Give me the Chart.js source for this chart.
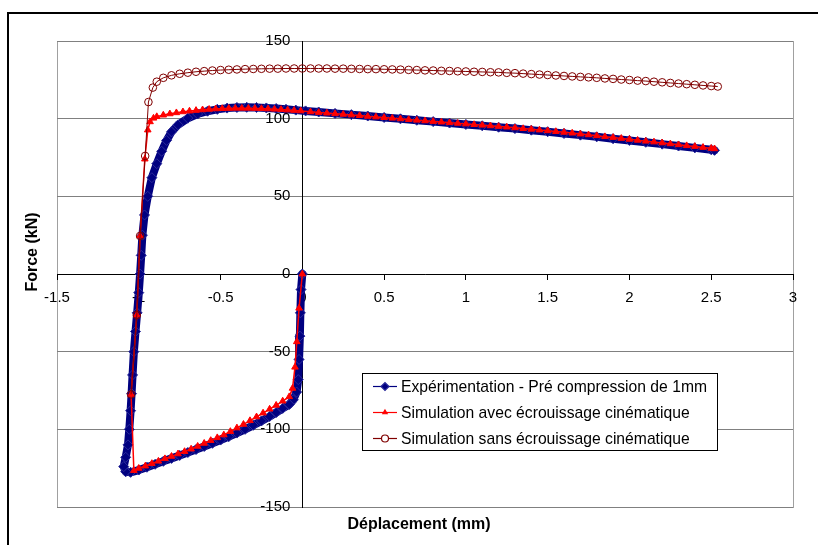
<!DOCTYPE html>
<html>
<head>
<meta charset="utf-8">
<script src="https://cdn.jsdelivr.net/npm/chart.js@4"></script>
<style>
  body { margin: 0; background: #fff; }
  canvas { display: block; }
</style>
</head>
<body>
<canvas id="chart" width="818" height="545"></canvas>
<script>
// series labels
var seriesNames = [
    "Expérimentation - Pré compression de 1mm",
    "Simulation avec écrouissage cinématique",
    "Simulation sans écrouissage cinématique"
];

// axis ticks
var xTicks = [-1.5, -1, -0.5, 0, 0.5, 1, 1.5, 2, 2.5, 3];
var yTicks = [-150, -100, -50, 0, 50, 100, 150];

// experimental curve (mm, kN)
var expX = [0, -0.008, -0.012, -0.015, -0.02, -0.025, -0.035, -0.055, -0.08,
    -0.12, -0.16, -0.2, -0.25, -0.3, -0.35, -0.4, -0.45, -0.5, -0.55, -0.6, -0.65, -0.7,
    -0.75, -0.8, -0.85, -0.9, -0.95, -1, -1.05, -1.08, -1.092, -1.08, -1.066, -1.058,
    -1.05, -1.044, -1.038, -1.03, -1.02, -1.01, -1, -0.992, -0.985, -0.978, -0.965,
    -0.945, -0.92, -0.89, -0.86, -0.83, -0.8, -0.76, -0.7, -0.64, -0.58, -0.52, -0.46,
    -0.4, -0.34, -0.28, -0.22, -0.16, -0.1, -0.04, 0.02, 0.1, 0.2, 0.3, 0.4, 0.5, 0.6,
    0.7, 0.8, 0.9, 1, 1.1, 1.2, 1.3, 1.4, 1.5, 1.6, 1.7, 1.8, 1.9, 2, 2.1, 2.2, 2.3,
    2.4, 2.5, 2.52];
var expY = [0, -10, -25, -40, -55, -68, -76, -81, -84,
    -86.5, -89.2, -91.7, -94.6, -97.4, -100, -102.4, -104.7, -106.9, -109, -111, -113, -114.9,
    -116.8, -118.7, -120.6, -122.5, -124.4, -126.2, -127.7, -127.3, -124, -118, -110, -100,
    -88, -77, -65, -50, -37, -25, -12, 0, 12, 25, 38,
    50, 62, 71, 79, 86, 91.5, 96, 100.3, 103, 104.8, 106, 106.8,
    107.2, 107.3, 107.2, 106.9, 106.5, 106, 105.5, 105, 104.3, 103.4, 102.6, 101.7, 100.8, 99.9,
    99, 98.1, 97.2, 96.3, 95.4, 94.5, 93.6, 92.6, 91.6, 90.5, 89.4, 88.3, 87.1, 86, 84.8, 83.6, 82.4,
    81.2, 80, 79.6];

// simulation with kinematic hardening
var avecX = [0, -0.02, -0.034, -0.045, -0.06, -0.08,
    -0.12, -0.16, -0.2, -0.24, -0.28, -0.32, -0.36, -0.4, -0.44, -0.48, -0.52, -0.56,
    -0.6, -0.64, -0.68, -0.72, -0.76, -0.8, -0.84, -0.88, -0.92, -0.96, -1, -1.03,
    -1.047, -1.012, -0.992, -0.963, -0.945, -0.931, -0.91, -0.89,
    -0.85, -0.81, -0.77, -0.73, -0.69, -0.65, -0.61, -0.57, -0.53, -0.49, -0.45, -0.41,
    -0.37, -0.33, -0.29, -0.25, -0.21, -0.17, -0.13, -0.09, -0.05, -0.01,
    0.05, 0.1, 0.15, 0.2, 0.25, 0.3, 0.35, 0.4, 0.45, 0.5, 0.55, 0.6, 0.65, 0.7, 0.75,
    0.8, 0.85, 0.9, 0.95, 1, 1.05, 1.1, 1.15, 1.2, 1.25, 1.3, 1.35, 1.4, 1.45, 1.5,
    1.55, 1.6, 1.65, 1.7, 1.75, 1.8, 1.85, 1.9, 1.95, 2, 2.05, 2.1, 2.15, 2.2, 2.25,
    2.3, 2.35, 2.4, 2.45, 2.5, 2.52];
var avecY = [0, -22, -43.6, -60, -73.6, -79,
    -81.8, -84.5, -87, -89.5, -92, -94.4, -96.8, -99.1, -101.4, -103.6, -105.4, -107.2,
    -109, -110.9, -112.7, -114.3, -115.8, -117.4, -118.9, -120.5, -122, -123.6, -125.1, -126.5,
    -77.5, -26.4, 24.5, 74, 92.7, 98, 100.3, 101.3,
    102.3, 103.1, 103.8, 104.4, 104.9, 105.3, 105.7, 106, 106.3, 106.5, 106.6, 106.7,
    106.7, 106.7, 106.6, 106.5, 106.3, 106.1, 105.9, 105.6, 105.3, 105,
    104.4, 104, 103.6, 103.2, 102.8, 102.4, 102, 101.5, 101.1, 100.7, 100.3, 99.9, 99.4, 99, 98.6,
    98.2, 97.8, 97.4, 97, 96.6, 96.2, 95.8, 95.4, 95, 94.6, 94.1, 93.6, 93.2, 92.7, 92.2,
    91.7, 91.2, 90.7, 90.1, 89.6, 89, 88.4, 87.9, 87.3, 86.7, 86.1, 85.5, 85, 84.4, 83.8,
    83.2, 82.6, 82.1, 81.5, 80.9, 80.6];

// simulation without kinematic hardening
var sansX = [-1.047, -1.012, -0.992, -0.961, -0.941, -0.914, -0.89,
    -0.85, -0.8, -0.75, -0.7, -0.65, -0.6, -0.55, -0.5, -0.45, -0.4, -0.35, -0.3, -0.25,
    -0.2, -0.15, -0.1, -0.05, 0, 0.05, 0.1, 0.15, 0.2, 0.25, 0.3, 0.35, 0.4, 0.45, 0.5,
    0.55, 0.6, 0.65, 0.7, 0.75, 0.8, 0.85, 0.9, 0.95, 1, 1.05, 1.1, 1.15, 1.2, 1.25,
    1.3, 1.35, 1.4, 1.45, 1.5, 1.55, 1.6, 1.65, 1.7, 1.75, 1.8, 1.85, 1.9, 1.95, 2,
    2.05, 2.1, 2.15, 2.2, 2.25, 2.3, 2.35, 2.4, 2.45, 2.5, 2.54];
var sansY = [-77.5, -26.4, 24.5, 76, 110.7, 120, 123.8,
    126.3, 127.9, 128.9, 129.6, 130.2, 130.6, 131, 131.3, 131.5, 131.7, 131.9, 132, 132.1,
    132.2, 132.2, 132.3, 132.3, 132.3, 132.3, 132.3, 132.3, 132.2, 132.2, 132.1, 132, 131.9, 131.9, 131.8,
    131.7, 131.6, 131.4, 131.3, 131.1, 131, 130.8, 130.7, 130.5, 130.4, 130.2, 130.1, 129.9, 129.8, 129.5,
    129.3, 129, 128.7, 128.4, 128.1, 127.8, 127.5, 127.2, 126.9, 126.6, 126.3, 125.9, 125.6, 125.2, 124.9,
    124.5, 124.2, 123.8, 123.4, 123, 122.6, 122.2, 121.8, 121.4, 121, 120.7];

function pts(xs, ys) {
    return xs.map(function (x, i) { return {x: x, y: ys[i]}; });
}

var FONT = "'Liberation Sans', Arial, sans-serif";

// frame, titles, y tick labels and legend drawn around the plot
var decor = {
    id: 'decor',
    beforeDraw: function (chart) {
        var ctx = chart.ctx, a = chart.chartArea;
        ctx.save();
        ctx.fillStyle = '#fff';
        ctx.fillRect(0, 0, chart.width, chart.height);
        ctx.strokeStyle = '#000';
        ctx.lineWidth = 2;
        ctx.strokeRect(8, 13, 830, 560);
        ctx.strokeStyle = '#a0a0a0';
        ctx.lineWidth = 1;
        ctx.strokeRect(a.left + 0.5, a.top + 0.5, a.right - a.left, a.bottom - a.top);
        ctx.restore();
    },
    afterDraw: function (chart) {
        var ctx = chart.ctx, xs = chart.scales.x, ys = chart.scales.y;
        ctx.save();
        ctx.fillStyle = '#000';
        ctx.font = '15px ' + FONT;
        ctx.textAlign = 'right';
        ctx.textBaseline = 'middle';
        var x0 = xs.getPixelForValue(0);
        yTicks.forEach(function (v) {
            ctx.fillText(String(v), x0 - 12, ys.getPixelForValue(v));
        });
        ctx.font = 'bold 16px ' + FONT;
        ctx.textAlign = 'center';
        ctx.fillText('Déplacement (mm)', 419, 525);
        ctx.translate(33, 252);
        ctx.rotate(-Math.PI / 2);
        ctx.fillText('Force (kN)', 0, 0);
        ctx.restore();

        // legend box
        ctx.save();
        ctx.fillStyle = '#fff';
        ctx.fillRect(362, 373, 355, 77);
        ctx.strokeStyle = '#000';
        ctx.lineWidth = 1;
        ctx.strokeRect(362.5, 373.5, 355, 77);
        ctx.font = '15.7px ' + FONT;
        ctx.textBaseline = 'middle';
        ctx.textAlign = 'left';
        chart.data.datasets.forEach(function (ds, i) {
            var y = 386.5 + i * 26;
            ctx.strokeStyle = ds.borderColor;
            ctx.lineWidth = 1.2;
            ctx.beginPath();
            ctx.moveTo(373, y);
            ctx.lineTo(397, y);
            ctx.stroke();
            ctx.fillStyle = ds.legendFill;
            ctx.strokeStyle = ds.pointBorderColor;
            Chart.helpers.drawPoint(ctx, {pointStyle: ds.pointStyle, radius: ds.legendRadius, borderWidth: 1}, 385, y);
            ctx.fillStyle = '#000';
            ctx.fillText(ds.label, 401, y + 1);
        });
        ctx.restore();
    }
};

new Chart(document.getElementById('chart'), {
    type: 'scatter',
    data: {
        datasets: [
            {
                label: seriesNames[0],
                data: pts(expX, expY),
                showLine: true,
                borderColor: '#000080',
                borderWidth: 8,
                borderJoinStyle: 'round',
                borderCapStyle: 'round',
                pointStyle: 'rectRot',
                pointRadius: 5,
                pointBorderWidth: 1,
                pointBackgroundColor: '#000080',
                pointBorderColor: '#2a2a9a',
                legendRadius: 4,
                legendFill: '#000080',
                order: 3
            },
            {
                label: seriesNames[1],
                data: pts(avecX, avecY),
                showLine: true,
                borderColor: '#ff0000',
                borderWidth: 1.5,
                pointStyle: 'triangle',
                pointRadius: 3.8,
                pointBorderWidth: 1,
                pointBackgroundColor: '#ff0000',
                pointBorderColor: '#ff0000',
                legendRadius: 2.5,
                legendFill: '#ff0000',
                order: 2
            },
            {
                label: seriesNames[2],
                data: pts(sansX, sansY),
                showLine: true,
                borderColor: '#800000',
                borderWidth: 1,
                pointStyle: 'circle',
                pointRadius: 3.8,
                pointBorderWidth: 1,
                pointBackgroundColor: 'rgba(255,255,255,0)',
                pointBorderColor: '#800000',
                legendRadius: 3.5,
                legendFill: '#fff',
                order: 1
            }
        ]
    },
    options: {
        responsive: false,
        animation: false,
        layout: {padding: {left: 57, top: 41, right: 25, bottom: 38}},
        plugins: {
            legend: {display: false},
            tooltip: {enabled: false}
        },
        scales: {
            x: {
                type: 'linear',
                position: {y: 0},
                min: -1.5,
                max: 3,
                afterBuildTicks: function (s) { s.ticks = xTicks.map(function (v) { return {value: v}; }); },
                border: {color: '#000', width: 1},
                grid: {drawOnChartArea: false, drawTicks: true, tickLength: 5, color: '#000'},
                ticks: {
                    color: '#000', font: {family: FONT, size: 15}, padding: 10,
                    maxRotation: 0, autoSkip: false,
                    callback: function (v) { return String(v); }
                }
            },
            y: {
                type: 'linear',
                position: {x: 0},
                min: -150,
                max: 150,
                afterBuildTicks: function (s) { s.ticks = yTicks.map(function (v) { return {value: v}; }); },
                border: {color: '#000', width: 1},
                grid: {color: '#808080', drawTicks: true, tickLength: 5},
                ticks: {display: false}
            }
        }
    },
    plugins: [decor]
});
</script>
</body>
</html>
